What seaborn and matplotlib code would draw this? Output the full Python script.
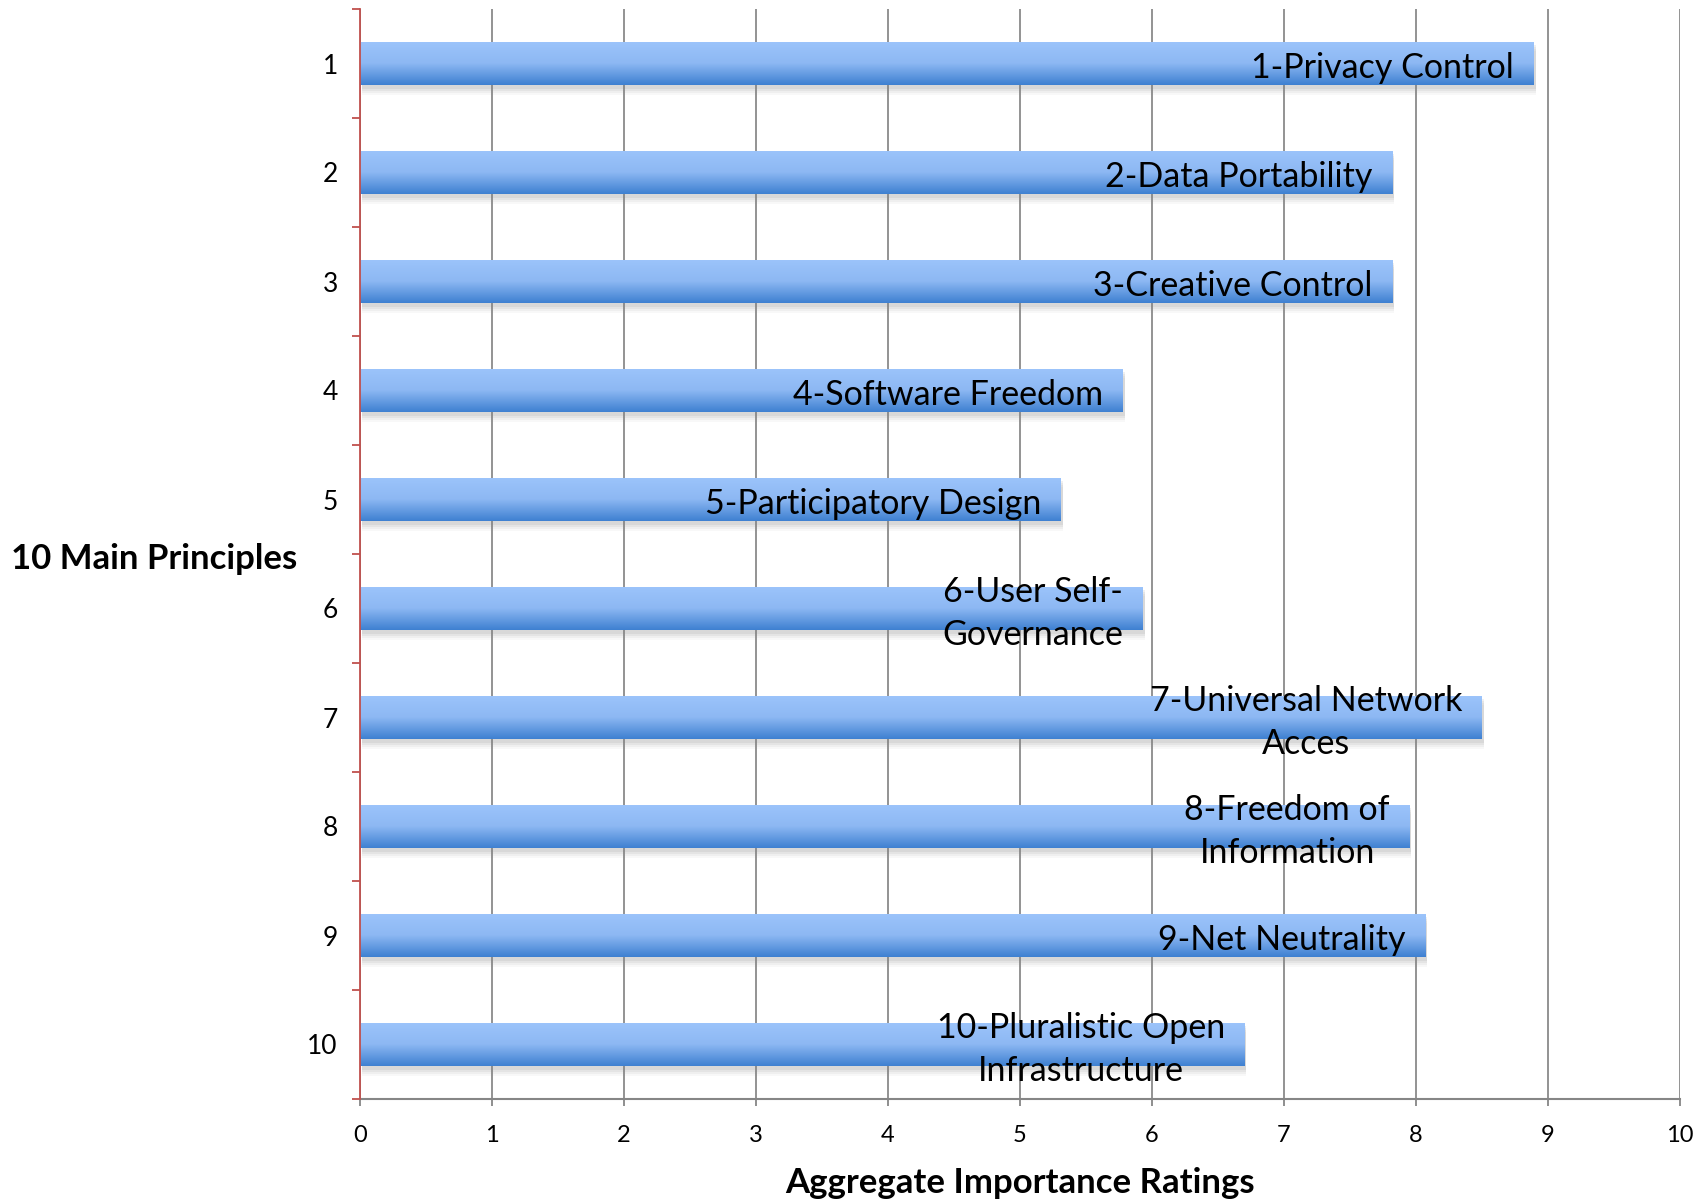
import numpy as np
import pandas as pd
import seaborn as sns
import matplotlib.pyplot as plt
import matplotlib.patheffects as pe
from matplotlib.colors import LinearSegmentedColormap
from matplotlib.ticker import FixedLocator

categories = ["1", "2", "3", "4", "5", "6", "7", "8", "9", "10"]
values = [8.89, 7.82, 7.82, 5.78, 5.31, 5.93, 8.50, 7.95, 8.07, 6.70]
bar_labels = [
    "1-Privacy Control",
    "2-Data Portability",
    "3-Creative Control",
    "4-Software Freedom",
    "5-Participatory Design",
    "6-User Self-\nGovernance",
    "7-Universal Network\nAcces",
    "8-Freedom of\nInformation",
    "9-Net Neutrality",
    "10-Pluralistic Open\nInfrastructure",
]
x_ticks = list(range(0, 11))
x_label = "Aggregate Importance Ratings"
y_label = "10 Main Principles"

sns.set_theme(style="white")
plt.rcParams['font.family'] = ['Lato', 'DejaVu Sans']
plt.rcParams['text.color'] = 'black'
plt.rcParams['axes.labelcolor'] = 'black'
plt.rcParams['xtick.color'] = 'black'
plt.rcParams['ytick.color'] = 'black'

W, H = 1700, 1201
fig = plt.figure(figsize=(W / 100, H / 100), dpi=100)
ax = fig.add_axes([360 / W, 1 - 1099 / H, 1320 / W, 1090 / H])

df = pd.DataFrame({"principle": categories, "rating": values})
sns.barplot(data=df, x="rating", y="principle", orient="h", order=categories,
            color="#6FA3EA", width=0.40, saturation=1, ax=ax, zorder=2)

cmap = LinearSegmentedColormap.from_list("g", ["#9CC4FB", "#8DB8F3", "#3E80D1"])
grad = np.linspace(0, 1, 256).reshape(-1, 1)
shadow = [pe.SimplePatchShadow(offset=(1.5, -d), shadow_rgbFace="#888888", alpha=a)
          for d, a in [(7, 0.06), (5.5, 0.08), (4, 0.10), (2.5, 0.12)]]
for patch, lab in zip(ax.patches, bar_labels):
    x0 = patch.get_x()
    w = patch.get_width()
    y0 = patch.get_y()
    h = patch.get_height()
    patch.set_edgecolor("none")
    patch.set_path_effects(shadow + [pe.Normal()])
    im = ax.imshow(grad, cmap=cmap, aspect="auto", extent=(x0, x0 + w, y0 + h, y0),
                   origin="upper", zorder=2.5, interpolation="bilinear")
    im.set_clip_path(patch)
    ax.annotate(lab, xy=(x0 + w, y0 + h / 2), xytext=(-14, -3.5), textcoords="offset points",
                ha="right", va="center", multialignment="center", fontsize=24.5,
                linespacing=1.45, color="black", zorder=4)

ax.set_xlim(0, 10)
ax.set_ylim(9.5, -0.5)
ax.set_xticks(x_ticks)
ax.set_xticklabels([str(t) for t in x_ticks])
ax.yaxis.set_minor_locator(FixedLocator(np.arange(-0.5, 10, 1)))

ax.grid(axis="x", color="#8A8A8A", linewidth=1.3)
ax.grid(axis="y", visible=False)
ax.set_axisbelow(True)

for s in ["top", "right"]:
    ax.spines[s].set_visible(False)
ax.spines["left"].set_color("#C0504D")
ax.spines["left"].set_linewidth(1.3)
ax.spines["left"].set_zorder(5)
ax.spines["bottom"].set_color("#868686")
ax.spines["bottom"].set_linewidth(1.5)

ax.tick_params(axis="y", which="major", length=0, labelsize=19, pad=16, labelcolor="black")
ax.tick_params(axis="y", which="minor", length=6, width=1.3, color="#C0504D", direction="out", left=True)
ax.tick_params(axis="x", which="major", length=5, width=1.3, color="#868686", direction="out",
               labelsize=17, pad=14, bottom=True, labelcolor="black")

ax.set_xlabel(x_label, fontsize=25, fontweight="bold", va="center", color="black")
ax.xaxis.set_label_coords(0.5, (1099 - 1183) / 1090)
ax.set_ylabel(y_label, fontsize=25, fontweight="bold", rotation=0, ha="left", va="center", color="black")
ax.yaxis.set_label_coords((11 - 360) / 1320, 0.495)

fig.savefig("out.png", dpi=100, facecolor="white")
